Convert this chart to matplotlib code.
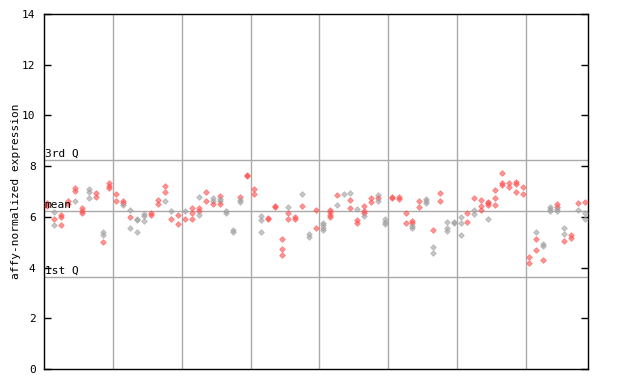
import matplotlib
matplotlib.use("Agg")
import matplotlib.pyplot as plt

# expression values per sample column (replicates)
values = [
    [6.56, 6.42], [6.20, 5.91, 5.68], [6.07, 6.00, 5.68], [6.63, 6.52],
    [7.12, 7.03, 6.64], [6.33, 6.22, 6.17], [7.08, 7.00, 6.73], [6.96, 6.77],
    [5.42, 5.28, 5.00], [7.32, 7.23, 7.12],
    [6.89, 6.64], [6.64, 6.56, 6.45], [6.29, 5.98, 5.55], [5.91, 5.87, 5.40],
    [6.11, 6.03, 5.82], [6.14, 6.06], [6.66, 6.49], [7.20, 6.97, 6.61],
    [6.23, 5.90], [6.07, 5.72],
    [6.23, 5.93], [6.33, 6.17, 5.93], [6.77, 6.33, 6.24, 6.09], [7.00, 6.64],
    [6.74, 6.62, 6.52], [6.82, 6.71, 6.61, 6.49], [6.23, 6.14], [5.48, 5.40],
    [6.77, 6.66, 6.58], [7.67, 7.62],
    [7.08, 6.89], [6.03, 5.87, 5.39], [5.96, 5.92], [6.42, 6.38],
    [5.11, 4.73, 4.48], [6.37, 6.17, 5.93], [6.00, 5.90], [6.90, 6.42],
    [5.33, 5.19], [6.27, 5.58],
    [5.77, 5.68, 5.58, 5.48], [6.27, 6.20, 6.07, 5.98], [6.86, 6.46], [6.90],
    [6.93, 6.66, 6.33], [6.31, 5.87, 5.77], [6.43, 6.23, 6.14, 6.03], [6.76, 6.60],
    [6.86, 6.73, 6.64], [5.91, 5.81, 5.71],
    [6.79, 6.75], [6.80, 6.72], [6.14, 5.75], [5.85, 5.75, 5.64, 5.55],
    [6.62, 6.40], [6.71, 6.64, 6.56], [5.50, 4.80, 4.56], [6.93, 6.62],
    [5.81, 5.55, 5.45], [5.79, 5.75],
    [5.98, 5.75, 5.27], [6.17, 5.79], [6.73, 6.27, 6.11], [6.66, 6.43, 6.26],
    [6.58, 6.53, 6.45, 5.90], [7.06, 6.73, 6.45], [7.71, 7.34, 7.26], [7.34, 7.19],
    [7.36, 7.28, 6.97], [7.16, 6.89],
    [4.40, 4.19], [5.39, 5.11, 4.69], [4.94, 4.87, 4.28], [6.40, 6.32, 6.24],
    [6.51, 6.40, 6.32, 6.24], [5.56, 5.31, 5.03], [5.27, 5.18], [6.53, 6.29],
    [6.58, 6.14, 5.90],
]
# r = red sample, g = grey sample
kinds = [
    "rr", "grg", "rrr", "rr", "rrg", "rrr", "ggg", "rr", "ggr", "rrr",
    "rr", "rrg", "grg", "ggg", "ggg", "rr", "rr", "rrg", "gr", "rr",
    "gr", "rrr", "grrg", "rr", "ggr", "rggr", "gg", "gg", "rgg", "rr",
    "rr", "ggg", "rr", "rr", "rrr", "grr", "rr", "gr", "gg", "rr",
    "gggg", "rrrr", "rg", "g", "grr", "grr", "rrrg", "rr", "grg", "gggg",
    "rr", "rr", "rr", "rrgg", "rr", "ggg", "rgg", "rr", "ggg", "gg",
    "ggg", "rr", "rgg", "rrr", "rrrg", "rrr", "rrr", "rr", "rrr", "rr",
    "rr", "grr", "ggr", "ggg", "rrgg", "ggr", "rr", "rg", "rgg",
]
q3 = 8.24
mean = 6.23
q1 = 3.63

red = "#ff5050"
grey = "#a0a0a0"

fig = plt.figure(figsize=(6.4, 3.84), dpi=100)
ax = fig.add_axes([44 / 640, 15 / 384, 544 / 640, 355 / 384])

for x in [9.5, 19.5, 29.5, 39.5, 49.5, 59.5, 69.5]:
    ax.axvline(x, color="#aaaaaa", lw=1, zorder=1)
for y in [q3, mean, q1]:
    ax.axhline(y, color="#aaaaaa", lw=1, zorder=1)

for i, (vals, ks) in enumerate(zip(values, kinds)):
    for v, k in zip(vals, ks):
        c = red if k == "r" else grey
        ax.plot(i, v, marker="D", ms=2.9, mfc=c, mec=c, mew=0.6, alpha=0.6,
                ls="none", zorder=3)

mono = "DejaVu Sans Mono"
ax.text(-0.4, q3 + 0.04, "3rd Q", fontsize=8, family=mono, va="bottom")
ax.text(-0.4, mean + 0.04, "mean", fontsize=8, family=mono, va="bottom")
ax.text(-0.4, q1 + 0.04, "1st Q", fontsize=8, family=mono, va="bottom")

ax.set_xlim(-0.5, 78.5)
ax.set_ylim(0, 14)
ax.set_yticks(range(0, 15, 2))
ax.set_yticklabels([str(t) for t in range(0, 15, 2)], family=mono, fontsize=8)
ax.set_xticks([])
ax.tick_params(axis="y", direction="in", length=5, width=1, right=True, pad=6)
ax.set_ylabel("affy-normalized expression", family=mono, fontsize=8, labelpad=1)
for s in ax.spines.values():
    s.set_linewidth(1)

fig.savefig("out.png", dpi=100)
